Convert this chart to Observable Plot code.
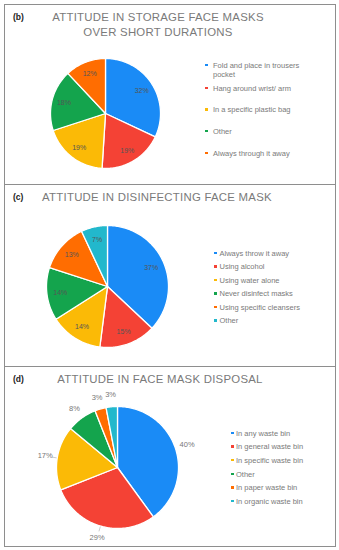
<!DOCTYPE html>
<html><head><meta charset="utf-8">
<script src="https://cdn.jsdelivr.net/npm/d3@7"></script>
<script src="https://cdn.jsdelivr.net/npm/@observablehq/plot@0.6"></script>
<style>
body{margin:0;background:#fff;font-family:"Liberation Sans",Arial,sans-serif;}
#root{position:relative;width:339px;height:550px;overflow:hidden;background:#fff;}
.panel{position:absolute;left:4px;width:332px;box-sizing:border-box;border:1.5px solid #8e8e8e;}
.tag{position:absolute;font-weight:bold;font-size:8.5px;color:#222;line-height:10px;}
.title{position:absolute;font-size:11.4px;letter-spacing:0.25px;color:#7a7a7a;text-align:center;line-height:14.5px;white-space:nowrap;}
.plot{position:absolute;}
.leg{position:absolute;font-size:7.5px;color:#7a7a7a;line-height:9px;}
.bul{position:absolute;width:2.5px;height:2.5px;}
</style></head><body><div id="root"></div>
<script>
// ---- data ----
const pieColors6 = ["#1a8bf6", "#f44235", "#fbba06", "#14a44d", "#ff6d01", "#22b8cc"];

const storageCategories = ["Fold and place in trousers pocket", "Hang around wrist/ arm", "In a specific plastic bag", "Other", "Always through it away"];
const storageValues = [32, 19, 19, 18, 12];
const storageLabels = ["32%", "19%", "19%", "18%", "12%"];

const disinfectCategories = ["Always throw it away", "Using alcohol", "Using water alone", "Never disinfect masks", "Using specific cleansers", "Other"];
const disinfectValues = [37, 15, 14, 14, 13, 7];
const disinfectLabels = ["37%", "15%", "14%", "14%", "13%", "7%"];

const disposalCategories = ["In any waste bin", "In general waste bin", "In specific waste bin", "Other", "In paper waste bin", "In organic waste bin"];
const disposalValues = [40, 29, 17, 8, 3, 3];
const disposalLabels = ["40%", "29%", "17%", "8%", "3%", "3%"];
const disposalLeader = [false, true, true, false, false, false];

// ---- layout ----
const root = document.getElementById("root");
function el(cls, css, html) {
  const d = document.createElement("div");
  d.className = cls;
  Object.assign(d.style, css);
  if (html != null) d.innerHTML = html;
  root.appendChild(d);
  return d;
}

function piePlot({categories, values, labels, colors, r, W, H, outside, leader, fontSize}) {
  const arcs = d3.pie().sort(null).value(d => d)(values);
  const pts = [];
  const labs = [];
  const links = [];
  arcs.forEach((a, i) => {
    const cat = categories[i];
    pts.push({cat, x: 0, y: 0});
    const n = Math.max(2, Math.ceil((a.endAngle - a.startAngle) / (Math.PI / 180)));
    for (let k = 0; k <= n; k++) {
      const t = a.startAngle + (a.endAngle - a.startAngle) * k / n;
      pts.push({cat, x: Math.sin(t), y: Math.cos(t)});
    }
    const m = (a.startAngle + a.endAngle) / 2;
    const rr = outside ? 1.2 : 0.78;
    labs.push({x: rr * Math.sin(m), y: rr * Math.cos(m), text: labels[i]});
    if (leader && leader[i]) {
      links.push({x1: 1.01 * Math.sin(m), y1: 1.01 * Math.cos(m), x2: 1.09 * Math.sin(m), y2: 1.09 * Math.cos(m)});
    }
  });
  return Plot.plot({
    width: W, height: H, margin: 0,
    style: {background: "transparent", overflow: "visible"},
    x: {domain: [-W / 2 / r, W / 2 / r], axis: null},
    y: {domain: [-H / 2 / r, H / 2 / r], axis: null},
    color: {domain: categories, range: colors},
    marks: [
      Plot.line(pts, {x: "x", y: "y", z: "cat", fill: "cat", stroke: "white", strokeWidth: 1.3, curve: "linear-closed"}),
      Plot.link(links, {x1: "x1", y1: "y1", x2: "x2", y2: "y2", stroke: "#aaa", strokeWidth: 0.6}),
      Plot.text(labs, {x: "x", y: "y", text: "text", fill: outside ? "#777" : "#555", fontSize: fontSize, fontFamily: "Liberation Sans, Arial, sans-serif"})
    ]
  });
}

function addPie(opts, cx, cy) {
  const svg = piePlot(opts);
  const d = el("plot", {left: (cx - opts.W / 2) + "px", top: (cy - opts.H / 2) + "px"});
  d.appendChild(svg);
}

function addLegend(categories, colors, bx, tx, tops, width) {
  categories.forEach((c, i) => {
    el("bul", {left: bx + "px", top: (tops[i] + 3.2) + "px", background: colors[i]});
    el("leg", {left: tx + "px", top: tops[i] + "px", width: width + "px"}, c);
  });
}

// panels
el("panel", {top: "4px", height: "181px"});
el("panel", {top: "184px", height: "183px"});
el("panel", {top: "366px", height: "181px"});

// (b)
el("tag", {left: "13px", top: "12px"}, "(b)");
el("title", {left: "0px", width: "316px", top: "10px"}, "ATTITUDE IN STORAGE FACE MASKS<br>OVER SHORT DURATIONS");
addPie({categories: storageCategories, values: storageValues, labels: storageLabels, colors: pieColors6.slice(0, 5),
  r: 55, W: 126, H: 126, outside: false, fontSize: 7}, 105, 113);
addLegend(storageCategories, pieColors6.slice(0, 5), 205, 213, [60.5, 83.5, 105, 126.5, 148.5], 95);

// (c)
el("tag", {left: "13px", top: "192px"}, "(c)");
el("title", {left: "0px", width: "314px", top: "190px"}, "ATTITUDE IN DISINFECTING FACE MASK");
addPie({categories: disinfectCategories, values: disinfectValues, labels: disinfectLabels, colors: pieColors6,
  r: 61, W: 138, H: 138, outside: false, fontSize: 7}, 107, 286);
addLegend(disinfectCategories, pieColors6, 214, 219.5, [248.5, 262, 275.5, 289, 302.5, 316], 110);

// (d)
el("tag", {left: "13px", top: "374px"}, "(d)");
el("title", {left: "0px", width: "320px", top: "372px"}, "ATTITUDE IN FACE MASK DISPOSAL");
addPie({categories: disposalCategories, values: disposalValues, labels: disposalLabels, colors: pieColors6,
  r: 61, W: 190, H: 150, outside: true, leader: disposalLeader, fontSize: 7.5}, 117, 467);
addLegend(disposalCategories, pieColors6, 231, 236, [428.5, 442, 455.5, 469.5, 483, 496.5], 95);
</script>
</body></html>
